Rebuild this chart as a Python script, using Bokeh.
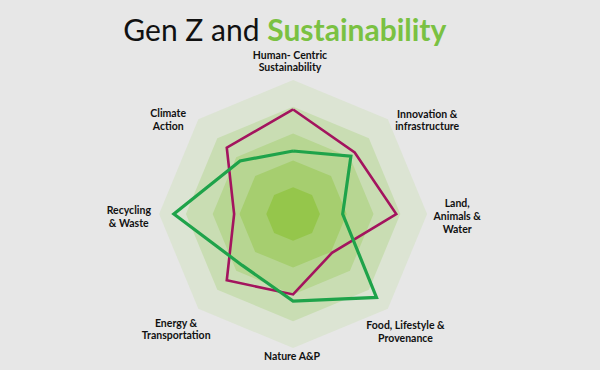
import math
from bokeh.plotting import figure
from bokeh.models import Range1d, ColumnDataSource
from bokeh.core.properties import value
from bokeh.embed import file_html
from bokeh.resources import INLINE

# ---- data ----
categories = ["Human- Centric\nSustainability", "Innovation &\ninfrastructure",
              "Land,\nAnimals &\nWater", "Food, Lifestyle &\nProvenance",
              "Nature A&P", "Energy &\nTransportation", "Recycling\n& Waste",
              "Climate\nAction"]
series_purple = [3.9, 3.25, 3.85, 2.05, 3.0, 3.5, 2.2, 3.5]
series_green = [2.35, 3.05, 1.85, 4.4, 3.25, 2.7, 4.45, 2.8]
levels = [5, 4, 3, 2, 1]

# ---- layout / style ----
W, H = 600, 370
CX, CY = 292.6, 213.5          # radar centre in page pixels
UNIT = 26.8                    # pixels per value unit
ring_colors = ["#dce4d3", "#c9ddb3", "#b7d692", "#a6ce6f", "#95c64b"]
label_pos = [(289.5, 60.5), (426.7, 119.5), (456.7, 215.5), (405, 331.3),
             (291.7, 355.7), (175.7, 328.5), (128.3, 216), (167.7, 119)]

p = figure(width=W, height=H, output_backend="svg", toolbar_location=None,
           x_range=Range1d(-CX, W - CX), y_range=Range1d(-(H - CY), CY),
           min_border=0, background_fill_color="#e7e7e7",
           border_fill_color="#e7e7e7", outline_line_color=None)
p.axis.visible = False
p.grid.visible = False

n = len(categories)
angles = [math.pi / 2 - i * 2 * math.pi / n for i in range(n)]


def poly(vals):
    xs = [v * UNIT * math.cos(a) for v, a in zip(vals, angles)]
    ys = [v * UNIT * math.sin(a) for v, a in zip(vals, angles)]
    return xs, ys


for lv, col in zip(levels, ring_colors):
    xs, ys = poly([lv] * n)
    p.patch(xs, ys, fill_color=col, line_color=None)

xs, ys = poly(series_purple)
p.line(xs + xs[:1], ys + ys[:1], line_color="#a3145e", line_width=2.6,
       line_join="miter")
xs, ys = poly(series_green)
p.line(xs + xs[:1], ys + ys[:1], line_color="#1fa34a", line_width=3.2,
       line_join="miter")

src = ColumnDataSource(dict(
    x=[lx - CX for lx, ly in label_pos],
    y=[CY - ly for lx, ly in label_pos],
    t=categories))
p.text(x="x", y="y", text="t", source=src, text_align="center",
       text_baseline="middle", text_font=value("Lato"),
       text_font_style="bold", text_font_size="10.5px", text_color="#111111",
       text_line_height=1.08)

# title
p.text(x=[259 - CX], y=[CY - 28.5], text=["Gen Z and"], text_align="right",
       text_baseline="alphabetic", text_font=value("Lato"),
       text_font_size="30px", text_color="#111111")
p.text(x=[266.7 - CX], y=[CY - 28.5], text=["Sustainability"], text_align="left",
       text_baseline="alphabetic", text_font=value("Lato"),
       text_font_style="bold", text_font_size="30px", text_color="#7ac142")

html = file_html(p, INLINE)
html = html.replace("</head>", "<style>body{background:#e7e7e7;}</style></head>", 1)
open("out.html", "w").write(html)
